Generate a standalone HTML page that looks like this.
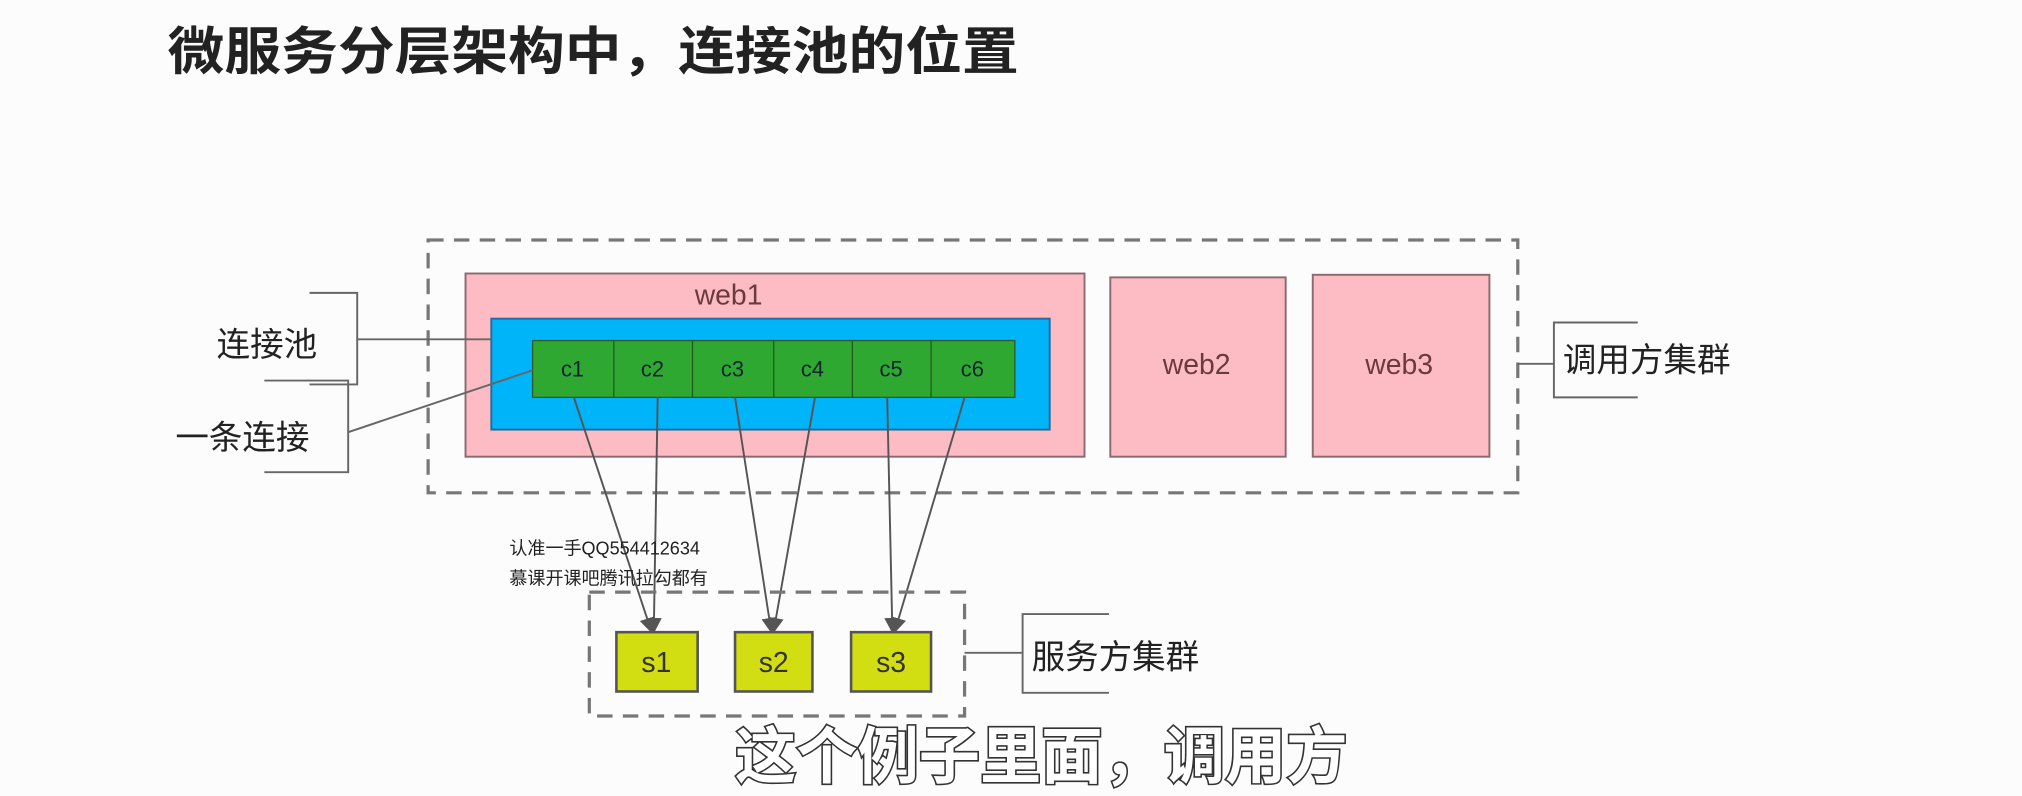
<!DOCTYPE html>
<html><head><meta charset="utf-8"><style>
html,body{margin:0;padding:0;background:#fcfcfd;}
svg{display:block;}
text{font-family:"Liberation Sans","Noto Sans CJK SC",sans-serif;}
</style></head><body>
<svg width="2022" height="796" viewBox="0 0 1568 617" preserveAspectRatio="none" xmlns="http://www.w3.org/2000/svg">
<rect width="1568" height="617" fill="#fcfcfd"/>
<text x="130" y="54" font-size="40" font-weight="bold" fill="#222" textLength="660" lengthAdjust="spacingAndGlyphs">微服务分层架构中，连接池的位置</text>
<defs><marker id="a" markerWidth="12" markerHeight="12" refX="10" refY="6" orient="auto" markerUnits="userSpaceOnUse"><path d="M0,0 L12,6 L0,12 z" fill="#555"/></marker></defs>
<rect x="332" y="186" width="845" height="196" fill="none" stroke="#777" stroke-width="2.5" stroke-dasharray="12,8"/>
<rect x="361" y="212" width="480" height="142" fill="#fdbcc4" stroke="#8a6a6e" stroke-width="1.5"/>
<text x="565" y="236" font-size="22" fill="#6b3a3e" text-anchor="middle">web1</text>
<rect x="381" y="247" width="433" height="86" fill="#00b4fa" stroke="#2a6a9a" stroke-width="1.5"/>
<rect x="413" y="264" width="374" height="44" fill="#2fa832" stroke="#2a5a2a" stroke-width="1"/>
<g stroke="#1f5a1f" stroke-width="1"><line x1="476" y1="264" x2="476" y2="308"/><line x1="537" y1="264" x2="537" y2="308"/><line x1="600" y1="264" x2="600" y2="308"/><line x1="661" y1="264" x2="661" y2="308"/><line x1="722" y1="264" x2="722" y2="308"/></g>
<g font-size="17" fill="#123" text-anchor="middle"><text x="444" y="292">c1</text><text x="506" y="292">c2</text><text x="568" y="292">c3</text><text x="630" y="292">c4</text><text x="691" y="292">c5</text><text x="754" y="292">c6</text></g>
<rect x="861" y="215" width="136" height="139" fill="#fdbcc4" stroke="#8a6a6e" stroke-width="1.5"/>
<rect x="1018" y="213" width="137" height="141" fill="#fdbcc4" stroke="#8a6a6e" stroke-width="1.5"/>
<text x="928" y="290" font-size="22" fill="#6b3a3e" text-anchor="middle">web2</text>
<text x="1085" y="290" font-size="22" fill="#6b3a3e" text-anchor="middle">web3</text>
<g stroke="#666" stroke-width="1.5" fill="none">
<path d="M1177,282 H1205 M1270,250 H1205 V308 H1270"/>
<path d="M240,227 H277 V298 H240 M277,263 H381"/>
<path d="M205,295 H270 V366 H205 M270,335 L413,287"/>
<path d="M748,506 H793 M860,476 H793 V537 H860"/>
</g>
<text x="1212" y="288" font-size="26" fill="#222">调用方集群</text>
<text x="168" y="276" font-size="26" fill="#222">连接池</text>
<text x="136" y="348" font-size="26" fill="#222">一条连接</text>
<text x="800" y="518" font-size="26" fill="#222">服务方集群</text>
<g stroke="#555" stroke-width="1.5" marker-end="url(#a)">
<line x1="445" y1="308" x2="505" y2="489"/><line x1="510" y1="308" x2="507" y2="489"/>
<line x1="570" y1="308" x2="598" y2="489"/><line x1="632" y1="308" x2="600" y2="489"/>
<line x1="688" y1="308" x2="692" y2="489"/><line x1="748" y1="308" x2="694" y2="489"/>
</g>
<rect x="457" y="459" width="291" height="96" fill="none" stroke="#777" stroke-width="2.5" stroke-dasharray="12,8"/>
<g fill="#d2dd12" stroke="#555" stroke-width="2"><rect x="478" y="490" width="63" height="46"/><rect x="570" y="490" width="60" height="46"/><rect x="660" y="490" width="62" height="46"/></g>
<g font-size="22" fill="#333" text-anchor="middle"><text x="509" y="521">s1</text><text x="600" y="521">s2</text><text x="691" y="521">s3</text></g>
<text x="395" y="430" font-size="14" fill="#222">认准一手QQ554412634</text>
<text x="395" y="453" font-size="14" fill="#222">慕课开课吧腾讯拉勾都有</text>
<text x="570" y="603" font-size="48" font-weight="bold" fill="#fff" stroke="#333" stroke-width="2.5" paint-order="stroke" textLength="475" lengthAdjust="spacingAndGlyphs">这个例子里面，调用方</text>
</svg>
</body></html>
